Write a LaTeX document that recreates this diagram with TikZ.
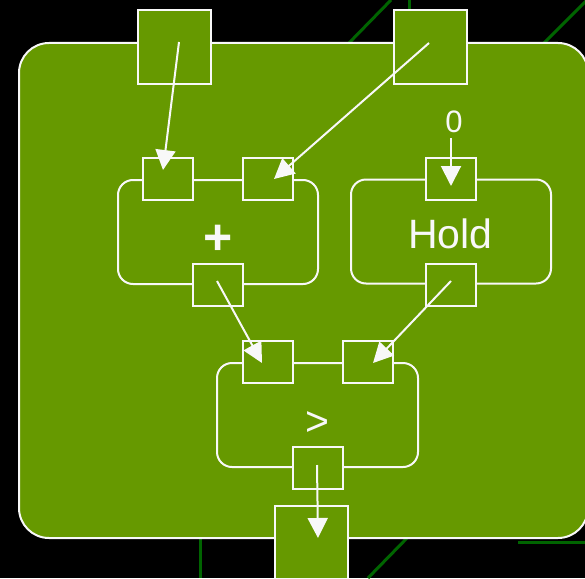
\documentclass[tikz,border=0pt]{standalone}
\usepackage{fontspec}
\setmainfont{Liberation Sans}
\usetikzlibrary{arrows.meta,calc}
\definecolor{blockgreen}{HTML}{669900}
\definecolor{wiregreen}{RGB}{0,100,0}
\definecolor{edgewhite}{HTML}{F8F8F8}
\tikzset{
  bgwire/.style={draw=wiregreen, line width=3pt},
  frame/.style={draw=edgewhite, fill=blockgreen, line width=2pt},
  iobox/.style={frame, rectangle, inner sep=0pt, minimum width=73pt, minimum height=73pt},
  portbox/.style={frame, rectangle, inner sep=0pt, minimum width=50pt, minimum height=42pt},
  opblock/.style={frame, rectangle, rounded corners=15pt, inner sep=0pt,
                  minimum width=200pt, minimum height=104pt},
  wire/.style={draw=edgewhite, line width=2pt,
               -{Triangle[length=20pt,width=20pt]}},
  label/.style={text=edgewhite, inner sep=0pt, anchor=base}
}
\begin{document}
\begin{tikzpicture}[x=1pt,y=-1pt]
  % canvas
  \fill[black] (0,0) rectangle (585,578);
  \useasboundingbox (0,0) rectangle (585,578);

  % wires of the surrounding diagram, behind the subsystem
  \draw[bgwire] (348,44) -- (391,0);
  \draw[bgwire] (409,0) -- (409,12);
  \draw[bgwire] (543,44) -- (587,0);
  \draw[bgwire] (200,537) -- (200,578);
  \draw[bgwire] (408,537) -- (368,578);
  \draw[bgwire] (518,542) -- (585,542);

  % subsystem body
  \draw[frame, rounded corners=30pt] (19,43) rectangle (588,538);

  % subsystem inputs and output
  \node[iobox] (in1) at (174.5,47) {};
  \node[iobox] (in2) at (430.5,47) {};
  \node[iobox] (out) at (311,542.5) {};

  % operator blocks
  \node[opblock] (plus) at (218,232) {};
  \node[opblock] (hold) at (451,231.5) {};
  \node[opblock, minimum width=201pt] (gt) at (317.5,415) {};

  % ports on the blocks
  \node[portbox] (plusA) at ($(plus.north)+(-50,0)$) {};
  \node[portbox] (plusB) at ($(plus.north)+(50,0)$) {};
  \node[portbox] (plusY) at (plus.south) {};
  \node[portbox] (holdA) at (hold.north) {};
  \node[portbox] (holdY) at (hold.south) {};
  \node[portbox] (gtA) at ($(gt.north)+(-50,0)$) {};
  \node[portbox] (gtB) at ($(gt.north)+(50,0)$) {};
  \node[portbox] (gtY) at (gt.south) {};

  % block labels
  \node[label, font=\fontsize{50}{50}\selectfont\bfseries] (plusT) at (218,254) {+};
  \node[label, font=\fontsize{41}{41}\selectfont] (holdT) at (450.5,248) {Hold};
  \node[label, font=\fontsize{41}{41}\selectfont] (gtT) at (317.5,435) {>};
  \node[label, font=\fontsize{31}{31}\selectfont] (zero) at (454,132) {0};

  % wire end points
  \coordinate (in1-tap) at (179,42);
  \coordinate (in2-tap) at (429,43);
  \coordinate (plusY-tap) at (217,281);
  \coordinate (holdY-tap) at (451,281);
  \coordinate (gtY-tap) at (317,465);
  \coordinate (zero-tap) at (451,138);
  \coordinate (plusA-tip) at (163,170);
  \coordinate (plusB-tip) at (274,179);
  \coordinate (gtA-tip) at (262,363);
  \coordinate (gtB-tip) at (373,363);
  \coordinate (out-tip) at (318,538);
  \coordinate (holdA-tip) at (451,186);

  % signal wires
  \draw[wire] (in1-tap) -- (plusA-tip);
  \draw[wire] (in2-tap) -- (plusB-tip);
  \draw[wire] (plusY-tap) -- (gtA-tip);
  \draw[wire] (holdY-tap) -- (gtB-tip);
  \draw[wire] (gtY-tap) -- (out-tip);
  \draw[wire] (zero-tap) -- (holdA-tip);
\end{tikzpicture}
\end{document}
